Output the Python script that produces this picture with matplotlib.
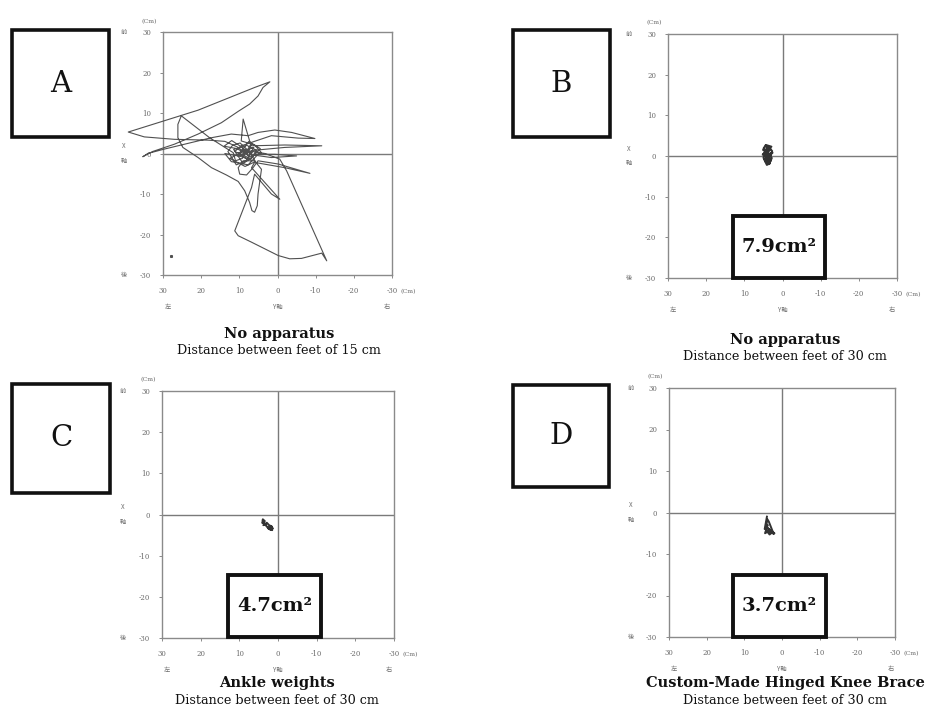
import matplotlib
matplotlib.use("Agg")
import matplotlib.pyplot as plt
from matplotlib.patches import Rectangle

# ---------------- data ----------------
tick_values = [30, 20, 10, 0, -10, -20, -30]
tick_labels = ["30", "20", "10", "0", "-10", "-20", "-30"]
ytick_values = [-30, -20, -10, 0, 10, 20, 30]
ytick_labels = ["-30", "-20", "-10", "0", "10", "20", "30"]

panel_letters = ["A", "B", "C", "D"]
panel_titles = ["No apparatus", "No apparatus", "Ankle weights", "Custom-Made Hinged Knee Brace"]
panel_subtitles = ["Distance between feet of 15 cm", "Distance between feet of 30 cm",
                   "Distance between feet of 30 cm", "Distance between feet of 30 cm"]
panel_areas = [None, "7.9cm²", "4.7cm²", "3.7cm²"]

# Panel A: centre-of-pressure path (x: left/right, y: front/back), cm
a_x = [8.6, 10.3, 12.1, 13.8, 18.2, 27.0, 34.9, 39.1, 29.6, 20.8, 12.1, 6.0, 2.0, 3.8, 5.1,
       7.3, 10.3, 14.7, 20.8, 27.0, 32.7, 35.3, 34.0, 29.6, 23.5, 17.3, 12.1, 7.7, 5.1, 0.7,
       -3.7, -9.8, -5.4, 1.6, 6.0, 9.5, 11.2, 7.7, 4.2, 6.0, 9.5, 9.0, 7.3, 6.8, -1.9,
       -11.6, -1.9, 6.0, 10.3, 13.8, 12.1, 7.7, 5.1, 0.7, -5.0, 1.6, 6.8, 8.6,
       10.5, 7.0, 5.5, 8.0, 11.5, 9.0, 6.5, 4.5, 7.5, 10.0, 12.5, 8.5, 5.8, 7.2, 9.8,
       11.8, 13.0, 10.8, 8.2, 6.2, 8.8, 7.6, 9.4, 12.0, 14.0, 10.6, 8.0, 6.8, 9.2, 11.0,
       11.6, 17.8,
       25.2, 26.1, 26.1, 24.8, 20.8, 17.3, 13.4, 10.3, 8.6, 7.3, 6.7, 6.0, 5.3, 5.1, 4.6,
       4.2, 6.0, 9.0, 10.3, 9.9, 8.1, 6.4, 5.1, -0.2, -8.5, -1.9, 6.0, 6.8, -0.6, 1.6,
       6.0, 6.8, 11.2, 10.3, 6.8, -0.2, -3.2, -6.3, -11.6, -12.9, -2.4, -0.6, 3.3, 7.7,
       10.3, 8.1, 6.4, 9.5]
a_y = [0.2, 1.5, 2.3, 3.0, 3.3, 3.5, 4.1, 5.3, 8.1, 10.7, 14.0, 16.3, 17.7, 16.3, 14.2,
       12.2, 10.4, 7.6, 4.8, 2.3, 0.5, -0.8, 0.0, 1.1, 2.5, 3.9, 4.8, 4.4, 5.2, 5.8,
       5.2, 3.7, 3.8, 4.4, 3.0, 1.9, 0.5, -1.0, 0.2, 2.1, 3.1, 8.5, 3.1, 1.9, 2.1,
       1.9, 1.5, 0.8, -0.6, 0.0, -2.0, -2.8, -0.2, -0.2, -0.6, -1.0, -0.3, 1.1,
       -0.5, -1.5, 0.8, 2.0, 1.0, -2.5, -0.8, 1.2, 3.0, 0.0, -1.2, -3.2, -2.0, 0.3, 2.6,
       2.0, 0.5, -2.8, -1.8, 1.5, 0.6, -0.6, 1.6, 3.2, 1.8, 1.2, -0.2, 2.6, -1.2, -1.8,
       0.2, 3.9,
       9.3, 7.2, 3.9, 1.5, -1.0, -3.5, -5.3, -6.9, -9.2, -12.1, -14.1, -14.5, -12.9, -10.0, -6.7,
       -3.9, -1.8, -1.8, -3.5, -5.1, -5.3, -3.5, -1.8, -2.6, -4.9, -3.5, -2.2, -3.5, -11.3, -10.0,
       -5.1, -8.4, -19.1, -20.3, -21.9, -25.2, -26.0, -25.9, -24.6, -26.5, -4.3, -1.4, 0.0, 0.7,
       0.2, -1.4, 0.5, -0.2]
a_dot_x = [27.8]
a_dot_y = [-25.2]

b_x = [4.0, 3.2, 4.5, 5.1, 3.0, 4.8, 3.5, 2.8, 4.2, 5.2, 3.6, 2.7, 4.4, 3.1, 4.9, 3.8, 2.6,
       4.6, 3.3, 4.1, 5.0, 3.9, 2.9, 4.3, 3.7]
b_y = [0.5, 1.8, 2.6, 1.5, 0.2, -0.8, -2.0, -0.5, 1.0, 0.3, 2.2, 1.2, -1.5, -1.2, 2.0, -0.3,
       0.8, 0.1, -1.8, -2.2, -0.4, 1.4, 2.3, 2.7, 0.0]

c_x = [3.9, 3.4, 4.1, 3.2, 3.8, 2.9, 2.3, 1.6, 2.1, 1.3, 1.9, 2.6, 1.5, 2.4, 3.0, 3.6, 4.0]
c_y = [-1.2, -1.6, -2.0, -2.4, -2.6, -2.0, -2.6, -2.9, -3.6, -3.4, -2.8, -3.2, -3.8, -3.5,
       -2.8, -2.2, -1.6]

d_x = [4.0, 4.3, 4.6, 3.8, 4.5, 3.0, 2.2, 3.5, 3.9, 4.2, 2.6, 3.3, 4.0, 2.0, 3.7]
d_y = [-1.0, -2.5, -4.0, -3.0, -5.0, -4.2, -5.2, -2.2, -1.6, -3.5, -4.8, -5.3, -4.5, -5.0, -3.8]

paths = [(a_x, a_y), (b_x, b_y), (c_x, c_y), (d_x, d_y)]

# ---------------- layout ----------------
W, H = 931, 717
fig = plt.figure(figsize=(W / 100, H / 100), dpi=100)
fig.patch.set_facecolor("white")


def fx(px):
    return px / W


def fy(py):
    return 1 - py / H


# axes boxes in pixels: left, top, right, bottom
ax_px = [(163, 32, 392, 275), (668, 34, 897, 278), (162, 391, 394, 638), (669, 388, 895, 637)]
letter_px = [(12, 30, 109, 137), (513, 30, 610, 137), (12, 384, 110, 493), (513, 385, 609, 487)]
area_px = [None, (733, 216, 825, 278), (228, 575, 321, 637), (733, 575, 826, 637)]
title_px = [(279, 334, 351), (785, 340, 356), (277, 683, 700), (785, 683, 700)]

serif = "DejaVu Serif"
cjk = ["Noto Sans CJK JP", "DejaVu Sans"]
grid_c = "#7a7a7a"
lbl_c = "#6a6a6a"

for i in range(4):
    l, t, r, b = ax_px[i]
    ax = fig.add_axes([fx(l), fy(b), (r - l) / W, (b - t) / H])
    ax.set_xlim(30, -30)
    ax.set_ylim(-30, 30)
    ax.axhline(0, color=grid_c, lw=1.0, zorder=1)
    ax.axvline(0, color=grid_c, lw=1.0, zorder=1)
    px_, py_ = paths[i]
    if i == 0:
        ax.plot(px_, py_, color="#505050", lw=0.8, clip_on=False, zorder=3)
        ax.plot(a_dot_x, a_dot_y, "s", color="#505050", ms=1.2, zorder=3)
    else:
        ax.plot(px_, py_, color="#333333", lw=1.4, zorder=3)
    for s in ax.spines.values():
        s.set_color("#8a8a8a")
        s.set_linewidth(1.0)
    ax.set_xticks(tick_values)
    ax.set_xticklabels(tick_labels)
    ax.set_yticks(ytick_values)
    ax.set_yticklabels(ytick_labels)
    ax.tick_params(length=2.5, width=0.7, colors="#8a8a8a", labelsize=5,
                   labelcolor=lbl_c, pad=6)
    for lab in ax.get_xticklabels() + ax.get_yticklabels():
        lab.set_family(serif)
    # unit labels
    ax.text(1.07, -0.068, "(Cm)", transform=ax.transAxes, fontsize=4.5, color=lbl_c,
            family=serif, ha="center", va="center")
    ax.text(-0.06, 1.045, "(Cm)", transform=ax.transAxes, fontsize=4.5, color=lbl_c,
            family=serif, ha="center", va="center")
    # orientation labels
    ax.text(-0.17, 1.0, "前", transform=ax.transAxes, fontsize=4.5, color=lbl_c,
            family=cjk, ha="center", va="center")
    ax.text(-0.17, 0.53, "X", transform=ax.transAxes, fontsize=4.5, color=lbl_c,
            family=cjk, ha="center", va="center")
    ax.text(-0.17, 0.47, "軸", transform=ax.transAxes, fontsize=4.5, color=lbl_c,
            family=cjk, ha="center", va="center")
    ax.text(-0.17, 0.0, "後", transform=ax.transAxes, fontsize=4.5, color=lbl_c,
            family=cjk, ha="center", va="center")
    ax.text(0.02, -0.13, "左", transform=ax.transAxes, fontsize=4.5, color=lbl_c,
            family=cjk, ha="center", va="center")
    ax.text(0.5, -0.13, "Y軸", transform=ax.transAxes, fontsize=4.5, color=lbl_c,
            family=cjk, ha="center", va="center")
    ax.text(0.98, -0.13, "右", transform=ax.transAxes, fontsize=4.5, color=lbl_c,
            family=cjk, ha="center", va="center")

    # letter box
    l2, t2, r2, b2 = letter_px[i]
    fig.add_artist(Rectangle((fx(l2), fy(b2)), (r2 - l2) / W, (b2 - t2) / H,
                             transform=fig.transFigure, facecolor="white",
                             edgecolor="#111111", lw=2.6, zorder=5))
    fig.text(fx((l2 + r2) / 2), fy((t2 + b2) / 2), panel_letters[i], family=serif,
             fontsize=21, ha="center", va="center", color="#111111", zorder=6)

    # area box
    if area_px[i] is not None:
        l3, t3, r3, b3 = area_px[i]
        fig.add_artist(Rectangle((fx(l3), fy(b3)), (r3 - l3) / W, (b3 - t3) / H,
                                 transform=fig.transFigure, facecolor="white",
                                 edgecolor="#111111", lw=2.8, zorder=5))
        fig.text(fx((l3 + r3) / 2), fy((t3 + b3) / 2), panel_areas[i], family=serif,
                 fontweight="bold", fontsize=14, ha="center", va="center",
                 color="#111111", zorder=6)

    # titles
    cx, ty, sy = title_px[i]
    fig.text(fx(cx), fy(ty), panel_titles[i], family=serif, fontweight="bold",
             fontsize=10.5, ha="center", va="center", color="#111111")
    fig.text(fx(cx), fy(sy), panel_subtitles[i], family=serif, fontsize=9.2,
             ha="center", va="center", color="#111111")

fig.savefig("out.png", dpi=100, facecolor="white")
